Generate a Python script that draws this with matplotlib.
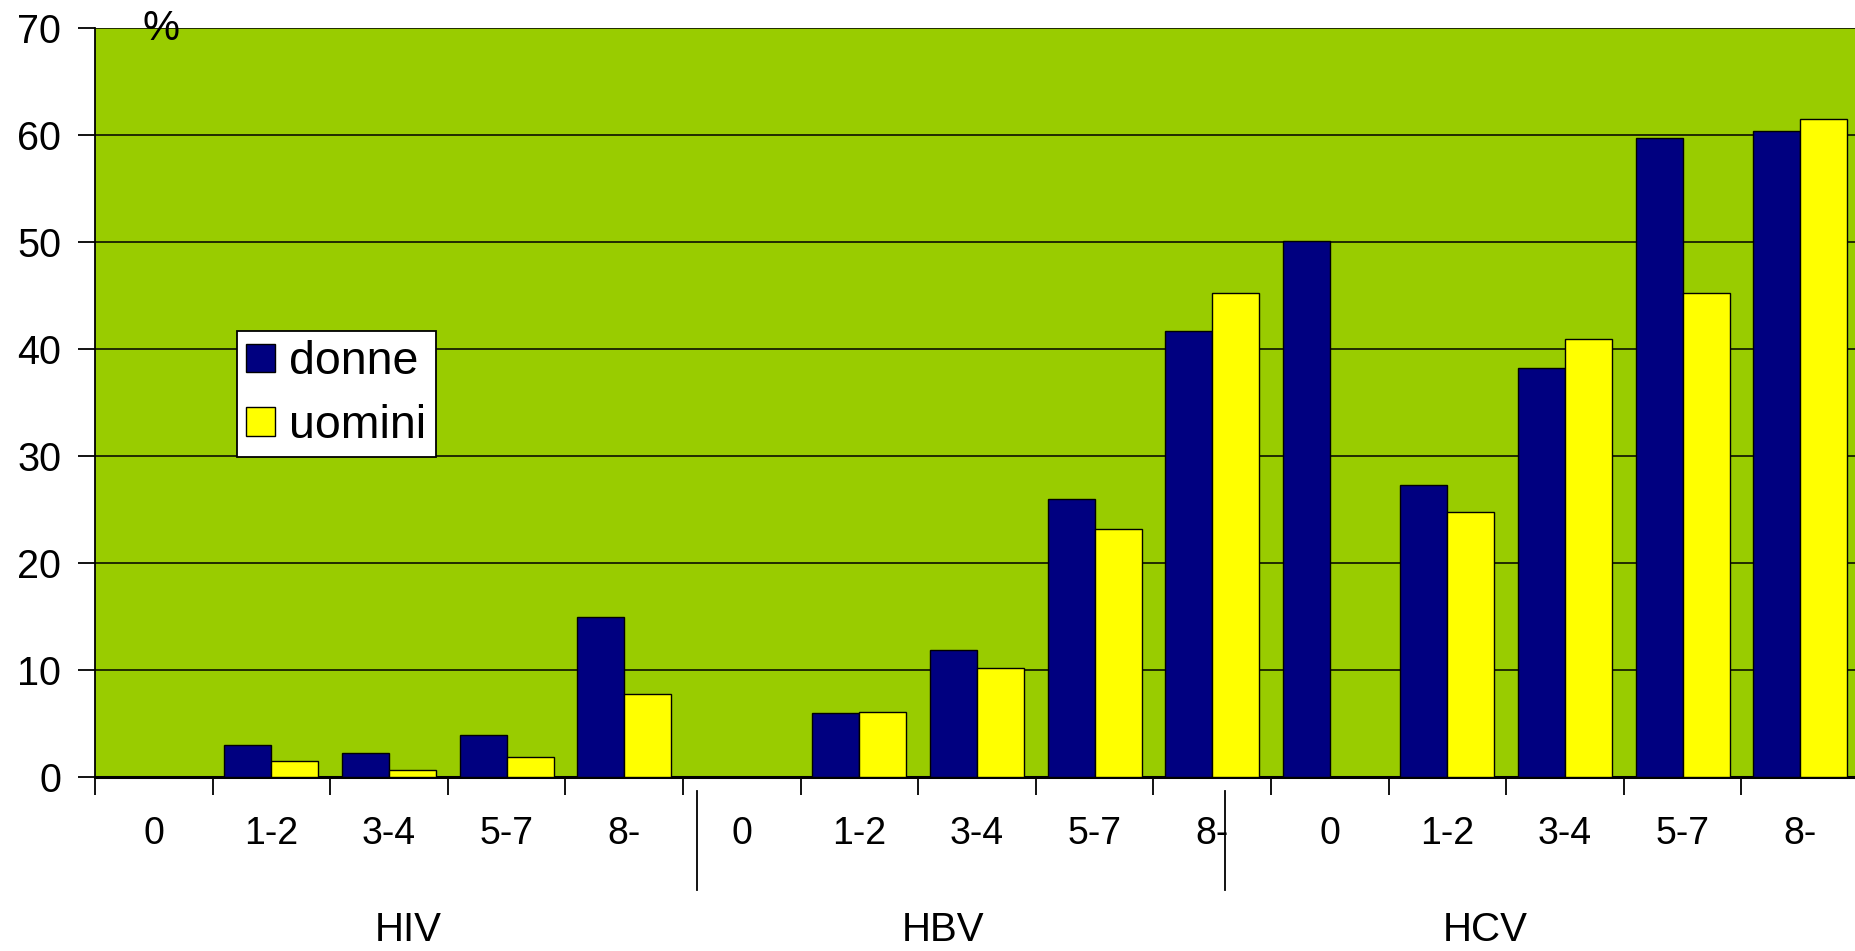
import matplotlib
matplotlib.use("Agg")
import matplotlib.pyplot as plt
from matplotlib.patches import Patch
from matplotlib.lines import Line2D

plt.rcParams['font.family'] = ['Liberation Sans', 'DejaVu Sans']

categories = ["0", "1-2", "3-4", "5-7", "8-"]
groups = ["HIV", "HBV", "HCV"]
donne = [0, 3.0, 2.2, 3.9, 15.0, 0, 6.0, 11.9, 26.0, 41.7, 50.1, 27.3, 38.2, 59.7, 60.4]
uomini = [0, 1.5, 0.7, 1.9, 7.8, 0, 6.1, 10.2, 23.2, 45.2, 0, 24.8, 40.9, 45.2, 61.5]
series_names = ["donne", "uomini"]
yticks = [0, 10, 20, 30, 40, 50, 60, 70]

GREEN = "#99CC00"
NAVY = "#000080"
YELLOW = "#FFFF00"

W, H = 1856, 951
fig = plt.figure(figsize=(W / 100, H / 100), dpi=100)
fig.patch.set_facecolor("white")

ax = fig.add_axes([95 / W, (H - 777) / H, (1859 - 95) / W, (777 - 28) / H])
ax.set_facecolor(GREEN)

n = len(donne)
xc = [i + 0.5 for i in range(n)]
bw = 0.4
ax.bar([x - bw / 2 for x in xc], donne, width=bw, color=NAVY, edgecolor="black", linewidth=1, zorder=3)
ax.bar([x + bw / 2 for x in xc], uomini, width=bw, color=YELLOW, edgecolor="black", linewidth=1, zorder=3)

ax.set_xlim(0, n)
ax.set_ylim(0, 70)
ax.set_yticks(yticks)
ax.set_yticklabels([str(v) for v in yticks], fontsize=28.5)
ax.yaxis.grid(True, color="black", linewidth=1.1, zorder=1)
ax.set_axisbelow(True)

ax.set_xticks(range(n + 1))
ax.set_xticklabels([])
ax.set_xticks(xc, minor=True)
ax.set_xticklabels(categories * len(groups), minor=True, fontsize=27)
ax.tick_params(axis="x", which="major", direction="out", length=13, width=1.3, color="black")
ax.tick_params(axis="x", which="minor", length=0, pad=28)
ax.tick_params(axis="y", direction="out", length=12, width=1.3, pad=12.5)

for s in ["top", "right"]:
    ax.spines[s].set_visible(False)
ax.spines["left"].set_linewidth(1.3)
ax.spines["bottom"].set_linewidth(2.2)

# group separators and labels (figure pixel layout)
for xs in [697, 1225]:
    fig.add_artist(Line2D([xs / W, xs / W], [1 - 791 / H, 1 - 890 / H], color="black", linewidth=1.3))
for g, gx in zip(groups, [408, 943, 1485]):
    fig.text(gx / W, 1 - 911 / H, g, ha="center", va="top", fontsize=29)

fig.text(161 / W, 1 - 29 / H, "%", ha="center", va="center", fontsize=30)

handles = [Patch(facecolor=NAVY, edgecolor="black", linewidth=1),
           Patch(facecolor=YELLOW, edgecolor="black", linewidth=1)]
leg = fig.legend(handles, series_names, loc="upper left",
                 bbox_to_anchor=(237 / W, 1 - 331 / H), fontsize=33.5,
                 frameon=True, fancybox=False, shadow=False,
                 handlelength=0.62, handleheight=0.56, handletextpad=0.3,
                 borderpad=0.2, labelspacing=0.42, borderaxespad=0)
leg.get_frame().set_edgecolor("black")
leg.get_frame().set_linewidth(1.3)
leg.get_frame().set_facecolor("white")
leg.get_frame().set_alpha(1)

fig.savefig("out.png", dpi=100, facecolor="white")
